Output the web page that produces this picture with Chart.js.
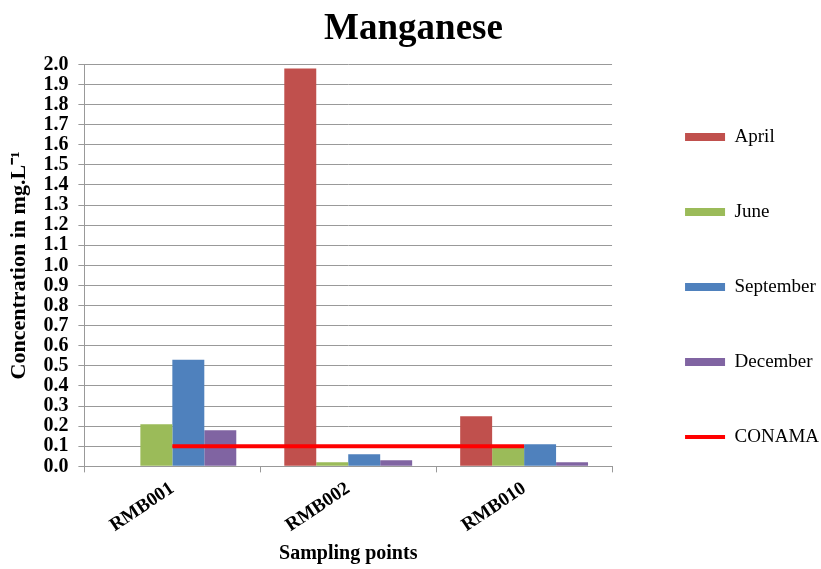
<!DOCTYPE html>
<html>
<head>
<meta charset="utf-8">
<script src="https://cdn.jsdelivr.net/npm/chart.js@4/dist/chart.umd.min.js"></script>
<style>
  body { margin: 0; background: #fff; }
  #wrap { width: 821px; height: 569px; }
</style>
</head>
<body>
<div id="wrap"><canvas id="graphManganese"></canvas></div>
<script>
var samplingPoints = ['RMB001', 'RMB002', 'RMB010'];
var april = [0, 1.98, 0.25];
var june = [0.21, 0.02, 0.10];
var september = [0.53, 0.06, 0.11];
var december = [0.18, 0.03, 0.02];
var conama = [0.1, 0.1, 0.1];

var serif = "'Liberation Serif', 'Times New Roman', serif";

// legend sits a bit further from the plot than Chart.js puts it
var legendGap = {
    id: 'legendGap',
    afterInit: function (chart) {
        var lg = chart.legend;
        var fit = lg.fit;
        lg.fit = function () {
            fit.call(this);
            this.width += 9;
        };
    },
    afterLayout: function (chart) {
        chart.legend.left += 17;
        chart.legend.right += 17;
        chart.legend.top += 4;
        chart.legend.bottom += 4;
    }
};

var graphManganese = document.getElementById('graphManganese').getContext('2d');
new Chart(graphManganese, {
    type: 'bar',
    data: {
        labels: samplingPoints,
        datasets: [
            { label: 'April', data: april, backgroundColor: '#C0504D', pointStyle: 'rect', order: 1 },
            { label: 'June', data: june, backgroundColor: '#9BBB59', pointStyle: 'rect', order: 1 },
            { label: 'September', data: september, backgroundColor: '#4F81BD', pointStyle: 'rect', order: 1 },
            { label: 'December', data: december, backgroundColor: '#8064A2', pointStyle: 'rect', order: 1 },
            {
                type: 'line', label: 'CONAMA', data: conama,
                borderColor: '#FF0000', backgroundColor: '#FF0000',
                borderWidth: 4, pointRadius: 0, pointStyle: 'line', order: 0
            }
        ]
    },
    plugins: [legendGap],
    options: {
        responsive: true,
        maintainAspectRatio: false,
        animation: false,
        categoryPercentage: 0.727,
        barPercentage: 1,
        layout: {
            padding: { left: 6, right: 0, top: 0, bottom: 3 }
        },
        plugins: {
            title: {
                display: true,
                text: 'Manganese',
                color: '#000',
                font: { family: serif, size: 37, weight: 'bold' },
                padding: { top: 7, bottom: 13 }
            },
            legend: {
                display: true,
                position: 'right',
                labels: {
                    color: '#000',
                    font: { family: serif, size: 19 },
                    usePointStyle: true,
                    pointStyleWidth: 40,
                    boxHeight: 8,
                    padding: 56,
                    sort: function (a, b) { return a.datasetIndex - b.datasetIndex; }
                }
            },
            tooltip: { enabled: false }
        },
        scales: {
            x: {
                grid: { display: true, drawOnChartArea: false, offset: true, color: '#999', tickLength: 6 },
                border: { color: '#999' },
                ticks: {
                    color: '#000',
                    font: { family: serif, size: 19, weight: 'bold' },
                    minRotation: 34,
                    maxRotation: 34,
                    padding: 5
                },
                title: {
                    display: true,
                    text: 'Sampling points',
                    color: '#000',
                    font: { family: serif, size: 20, weight: 'bold' },
                    padding: { top: 0, bottom: 0 }
                }
            },
            y: {
                min: 0,
                max: 2,
                grid: { color: '#999', tickLength: 6 },
                border: { color: '#999' },
                ticks: {
                    stepSize: 0.1,
                    autoSkip: false,
                    color: '#000',
                    font: { family: serif, size: 20, weight: 'bold' },
                    padding: 10,
                    callback: function (v) { return v.toFixed(1); }
                },
                title: {
                    display: true,
                    text: 'Concentration in mg.L\u207B\u00B9',
                    color: '#000',
                    font: { family: serif, size: 22, weight: 'bold' },
                    padding: { top: 0, bottom: 1 }
                }
            }
        }
    }
});
</script>
</body>
</html>
